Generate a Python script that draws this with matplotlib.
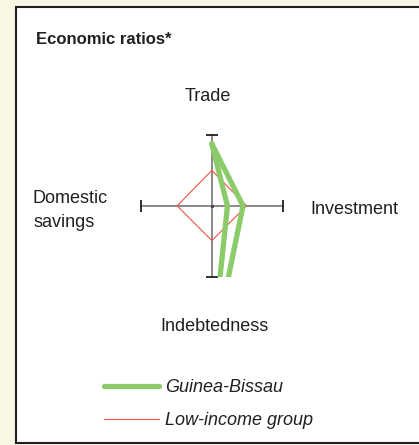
import matplotlib.pyplot as plt
from matplotlib.patches import Rectangle

plt.rcParams["font.family"] = ["Liberation Sans", "DejaVu Sans"]

W, H = 419, 445

# spokes of the diamond (scaled so that the axis end marks sit at 1)
axes_names = ["Trade", "Investment", "Indebtedness", "Domestic savings"]

# Guinea-Bissau, two periods: trade, investment, indebtedness (savings off the chart)
gb_trade = [0.875, 0.875]
gb_investment = [0.22, 0.44]
gb_indebtedness = [2.12, 2.14]

# Low-income group: trade, investment, indebtedness, domestic savings
low_income = [0.50, 0.49, 0.49, 0.49]

GREEN = "#8ccb6a"
RED = "#ee5544"
TEXT = "#231f20"


def fx(x):
    return x / W


def fy(y):
    return 1 - y / H


fig = plt.figure(figsize=(W / 100, H / 100), dpi=100)
fig.patch.set_facecolor("#faf6e4")

# white panel with dark border
fig.patches.append(
    Rectangle(
        (fx(16), fy(443)),
        1.2,
        fy(7) - fy(443),
        transform=fig.transFigure,
        facecolor="white",
        edgecolor=TEXT,
        linewidth=1.5,
        zorder=-5,
    )
)

ax = fig.add_axes([fx(141), fy(276.7), fx(282.7) - fx(141), fy(135) - fy(276.7)])
ax.set_zorder(2)
ax.set_xlim(-1, 1)
ax.set_ylim(-1, 1)
ax.axis("off")

# axis cross with end marks
ax.plot([-1, 1], [0, 0], color="#808080", linewidth=1.3, clip_on=False, zorder=1)
ax.plot([0, 0], [-1, 1], color="#808080", linewidth=1.3, clip_on=False, zorder=1)
ax.plot([-1, 1], [0, 0], linestyle="none", marker="|", markersize=8,
        markeredgewidth=1.3, color=TEXT, clip_on=False, zorder=2)
ax.plot([0, 0], [-1, 1], linestyle="none", marker="_", markersize=8,
        markeredgewidth=1.3, color=TEXT, clip_on=False, zorder=2)
ax.plot([0], [0], marker="s", markersize=1.2, color="#444444", zorder=2)

# low-income diamond
t, inv, ind, sav = low_income
(red_line,) = ax.plot(
    [0, inv, 0, -sav, 0],
    [t, 0, -ind, 0, t],
    color=RED,
    linewidth=0.8,
    zorder=3,
    label="Low-income group",
)

# Guinea-Bissau polylines
green_lines = []
for tr, iv, de in zip(gb_trade, gb_investment, gb_indebtedness):
    (gl,) = ax.plot(
        [0, iv, 0],
        [tr, 0, -de],
        color=GREEN,
        linewidth=3.8,
        solid_joinstyle="miter",
        solid_capstyle="round",
        zorder=4,
        label="Guinea-Bissau",
    )
    green_lines.append(gl)

# texts
fig.text(fx(36), fy(43.7), "Economic ratios*", fontsize=12, fontweight="bold",
         color=TEXT, va="baseline", ha="left")
fig.text(fx(208), fy(101), axes_names[0], fontsize=13, color=TEXT,
         va="baseline", ha="center")
fig.text(fx(310.7), fy(214), axes_names[1], fontsize=13, color=TEXT,
         va="baseline", ha="left")
fig.text(fx(214), fy(331), axes_names[2], fontsize=13, color=TEXT,
         va="baseline", ha="center")
fig.text(fx(33), fy(203.3), axes_names[3].split()[0], fontsize=13, color=TEXT,
         va="baseline", ha="left")
fig.text(fx(33), fy(227), axes_names[3].split()[1], fontsize=13, color=TEXT,
         va="baseline", ha="left")

leg = fig.legend(
    handles=[green_lines[0], red_line],
    loc="upper left",
    bbox_to_anchor=(fx(104), fy(379)),
    bbox_transform=fig.transFigure,
    frameon=False,
    borderpad=0,
    borderaxespad=0,
    handlelength=3.05,
    handletextpad=0.35,
    labelspacing=0.9,
    fontsize=13,
)
for txt in leg.get_texts():
    txt.set_fontstyle("italic")
    txt.set_color(TEXT)

fig.savefig("out.png", dpi=100, facecolor=fig.get_facecolor())
